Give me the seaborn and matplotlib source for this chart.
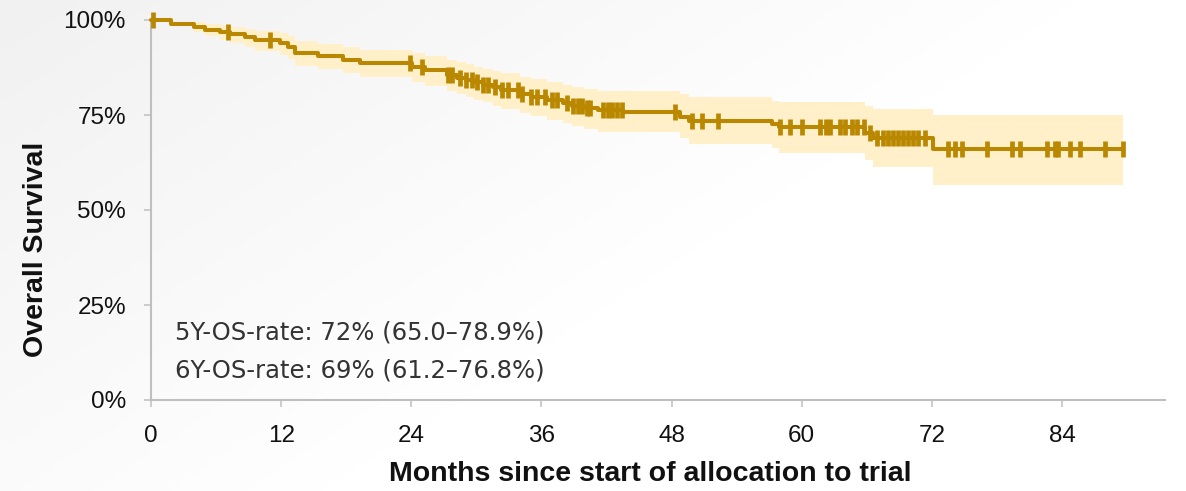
import numpy as np
import pandas as pd
import matplotlib
matplotlib.use("Agg")
import matplotlib.pyplot as plt
import seaborn as sns

# Kaplan-Meier estimate: event times (months), survival after each step,
# and the pointwise 95% confidence limits
months = [0.0, 1.8, 4.0, 5.0, 6.4, 7.3, 8.7, 9.6, 11.9, 12.6, 13.3, 15.4,
          17.7, 19.3, 24.1, 25.3, 27.3, 28.2, 29.0, 29.8, 30.6, 31.5, 32.3,
          34.0, 35.0, 36.5, 38.0, 38.8, 39.9, 41.2, 43.5, 48.8, 49.6, 57.3,
          57.9, 65.8, 66.6, 72.1]
survival = [1.000, 0.990, 0.982, 0.975, 0.968, 0.962, 0.955, 0.947, 0.939,
            0.928, 0.914, 0.905, 0.895, 0.886, 0.877, 0.868, 0.856, 0.848,
            0.842, 0.836, 0.830, 0.823, 0.816, 0.806, 0.798, 0.790, 0.781,
            0.775, 0.768, 0.762, 0.757, 0.746, 0.734, 0.726, 0.718, 0.703,
            0.690, 0.660]
ci_lower = [1.000, 0.986, 0.968, 0.958, 0.947, 0.939, 0.929, 0.919, 0.909,
            0.897, 0.880, 0.870, 0.860, 0.849, 0.838, 0.827, 0.813, 0.804,
            0.797, 0.790, 0.783, 0.775, 0.767, 0.756, 0.747, 0.738, 0.728,
            0.721, 0.713, 0.706, 0.705, 0.690, 0.675, 0.663, 0.650, 0.632,
            0.612, 0.566]
ci_upper = [1.000, 0.994, 0.995, 0.990, 0.986, 0.982, 0.977, 0.972, 0.966,
            0.957, 0.945, 0.938, 0.930, 0.921, 0.914, 0.906, 0.896, 0.889,
            0.883, 0.877, 0.872, 0.866, 0.860, 0.851, 0.844, 0.837, 0.829,
            0.824, 0.818, 0.813, 0.812, 0.805, 0.798, 0.786, 0.785, 0.773,
            0.765, 0.750]

# Censoring times (months)
censored = [0.2, 7.1, 11.0, 23.9, 25.0, 27.4, 27.8, 28.5, 29.0, 29.6, 30.1,
            30.6, 31.1, 31.7, 32.4, 32.9, 33.8, 34.2, 35.0, 35.6, 36.3, 37.0,
            37.4, 38.4, 38.9, 39.4, 39.7, 40.2, 40.5, 41.7, 42.1, 42.5, 43.0,
            43.4, 48.3, 49.9, 50.8, 52.3, 58.0, 58.9, 60.0, 61.7, 62.2, 62.6,
            63.5, 64.0, 64.6, 65.1, 65.7, 66.3, 66.9, 67.5, 68.0, 68.4, 68.9,
            69.3, 69.8, 70.3, 70.7, 71.4, 73.5, 74.1, 74.8, 77.1, 79.4, 80.1,
            82.6, 83.4, 83.6, 84.7, 85.7, 88.0, 89.6]
follow_up_end = 89.6

x_ticks = [0, 12, 24, 36, 48, 60, 72, 84]
y_ticks = [0.0, 0.25, 0.50, 0.75, 1.00]
y_tick_labels = ["0%", "25%", "50%", "75%", "100%"]
rate_lines = ["5Y-OS-rate: 72% (65.0\u201378.9%)",
              "6Y-OS-rate: 69% (61.2\u201376.8%)"]
x_title = "Months since start of allocation to trial"
y_title = "Overall Survival"

GOLD = "#BA8800"
BAND = "#FFF0C9"
AXIS_GREY = "#BFBFBF"

# Step table carried to the end of follow-up
curve = pd.DataFrame({
    "month": months + [follow_up_end],
    "survival": survival + [survival[-1]],
    "lower": ci_lower + [ci_lower[-1]],
    "upper": ci_upper + [ci_upper[-1]],
})
step_idx = np.searchsorted(months, censored, side="right") - 1
marks = pd.DataFrame({
    "month": censored,
    "survival": np.asarray(survival)[step_idx],
})

sns.set_theme(style="white")
plt.rcParams["font.family"] = ["Liberation Sans", "DejaVu Sans"]

W, H = 1186, 491
fig = plt.figure(figsize=(W / 100, H / 100), dpi=100)

# Soft grey wash behind the chart, fading toward the lower right
bg = fig.add_axes([0, 0, 1, 1], zorder=0)
gx, gy = np.meshgrid(np.linspace(0, 1, 300), np.linspace(0, 1, 120))
shade = np.clip(0.945 + 0.055 * (1.1 * gx + 0.7 * gy), 0, 1)
bg.imshow(np.dstack([shade, shade, shade]), extent=[0, 1, 0, 1],
          aspect="auto", origin="upper")
bg.set_axis_off()

left, right, top, bottom = 151 / W, 1165 / W, 1 - 20 / H, 1 - 400 / H
ax = fig.add_axes([left, bottom, right - left, top - bottom], zorder=1)
ax.set_facecolor("none")

ax.fill_between(curve["month"], curve["lower"], curve["upper"],
                step="post", color=BAND, linewidth=0, zorder=1)
sns.lineplot(data=curve, x="month", y="survival", drawstyle="steps-post",
             color=GOLD, linewidth=2.9, ax=ax, clip_on=False, zorder=3,
             estimator=None)
sns.scatterplot(data=marks, x="month", y="survival", marker="|", s=130,
                color=GOLD, linewidth=3.4, ax=ax, clip_on=False, zorder=4)

ax.set_xlim(0, 93.5)
ax.set_ylim(0, 1.0)
ax.set_xticks(x_ticks)
ax.set_yticks(y_ticks)
ax.set_yticklabels(y_tick_labels)

for side in ("top", "right"):
    ax.spines[side].set_visible(False)
for side in ("left", "bottom"):
    ax.spines[side].set_color(AXIS_GREY)
    ax.spines[side].set_linewidth(1.5)

ax.tick_params(axis="both", which="major", direction="out", length=5,
               width=1.1, color=AXIS_GREY, labelsize=17.5, labelcolor="#111111",
               pad=13, left=True, bottom=True)

ax.set_xlabel(x_title, fontsize=20.5, fontweight="bold", color="#111111")
ax.set_ylabel(y_title, fontsize=20.5, fontweight="bold", color="#111111")
ax.xaxis.set_label_coords(0.492, -0.161)
ax.yaxis.set_label_coords(-0.101, 0.397)

for i, line in enumerate(rate_lines):
    ax.text(2.2, 0.178 - i * 0.1, line, fontsize=17.5, color="#333333",
            family=["DejaVu Sans"], va="center", ha="left", zorder=5)

fig.savefig("out.png", dpi=100)
